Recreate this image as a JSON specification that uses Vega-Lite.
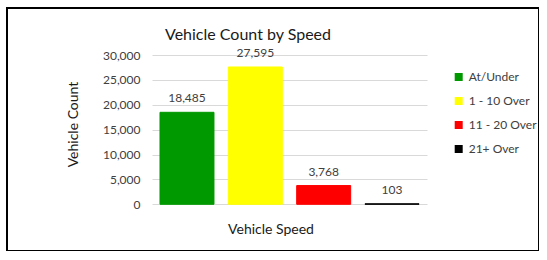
{
  "$schema": "https://vega.github.io/schema/vega-lite/v6.json",
  "width": 532,
  "height": 243,
  "autosize": {"type": "none"},
  "padding": {"left": 7, "top": 8, "right": 0, "bottom": 0},
  "background": "white",
  "config": {
    "font": "Lato",
    "view": {"stroke": "#000000", "strokeWidth": 2},
    "axis": {"labelFont": "Lato", "titleFont": "Lato"}
  },
  "title": {
    "text": "Vehicle Count by Speed",
    "font": "Lato",
    "fontSize": 16,
    "fontWeight": "normal",
    "color": "#1a1a1a",
    "baseline": "alphabetic",
    "offset": -48,
    "dx": -25
  },
  "data": {
    "values": [
      {"speed": "At/Under", "count": 18485},
      {"speed": "1 - 10 Over", "count": 27595},
      {"speed": "11 - 20 Over", "count": 3768},
      {"speed": "21+ Over", "count": 103}
    ]
  },
  "encoding": {
    "x": {
      "field": "speed",
      "type": "nominal",
      "sort": ["At/Under", "1 - 10 Over", "11 - 20 Over", "21+ Over"],
      "scale": {"range": [145, 420], "paddingInner": 0.21, "paddingOuter": 0.117},
      "axis": {
        "orient": "bottom",
        "offset": -46.7,
        "title": "Vehicle Speed",
        "labels": false,
        "ticks": false,
        "domain": false,
        "grid": false,
        "titleFontSize": 14,
        "titleFontWeight": "normal",
        "titleColor": "#1a1a1a",
        "titleX": 263.5,
        "titleY": 25,
        "titleBaseline": "middle",
        "titleAlign": "center"
      }
    },
    "y": {
      "field": "count",
      "type": "quantitative",
      "scale": {"domain": [0, 30000], "range": [196.3, 47], "nice": false},
      "axis": {
        "orient": "left",
        "offset": -145,
        "values": [0, 5000, 10000, 15000, 20000, 25000, 30000],
        "format": ",.0f",
        "ticks": false,
        "domain": false,
        "grid": true,
        "gridColor": "#d9d9d9",
        "gridWidth": 1,
        "labelPadding": 12,
        "labelFontSize": 12,
        "labelColor": "#404040",
        "title": "Vehicle Count",
        "titleFontSize": 14,
        "titleFontWeight": "normal",
        "titleColor": "#1a1a1a",
        "titleAngle": -90,
        "titleX": -78.5,
        "titleY": 116,
        "titleBaseline": "middle",
        "titleAlign": "center"
      }
    }
  },
  "layer": [
    {
      "mark": {"type": "bar", "strokeWidth": 1},
      "encoding": {
        "color": {
          "field": "speed",
          "type": "nominal",
          "sort": ["At/Under", "1 - 10 Over", "11 - 20 Over", "21+ Over"],
          "scale": {
            "domain": ["At/Under", "1 - 10 Over", "11 - 20 Over", "21+ Over"],
            "range": ["#009900", "#ffff00", "#ff0000", "#000000"]
          },
          "legend": {
            "title": null,
            "orient": "none",
            "legendX": 445.7,
            "legendY": 63,
            "symbolType": "square",
            "symbolSize": 64,
            "symbolStrokeWidth": 0,
            "labelFont": "Lato",
            "labelFontSize": 12,
            "labelColor": "#404040",
            "labelOffset": 4,
            "rowPadding": 12
          }
        },
        "stroke": {
          "field": "speed",
          "type": "nominal",
          "scale": {
            "domain": ["At/Under", "1 - 10 Over", "11 - 20 Over", "21+ Over"],
            "range": ["#009900", "#ffff00", "#ff0000", "#000000"]
          },
          "legend": null
        }
      }
    },
    {
      "mark": {"type": "text", "baseline": "alphabetic", "dy": -10, "font": "Lato", "fontSize": 12, "color": "#404040"},
      "encoding": {
        "text": {"field": "count", "type": "quantitative", "format": ","}
      }
    }
  ]
}
